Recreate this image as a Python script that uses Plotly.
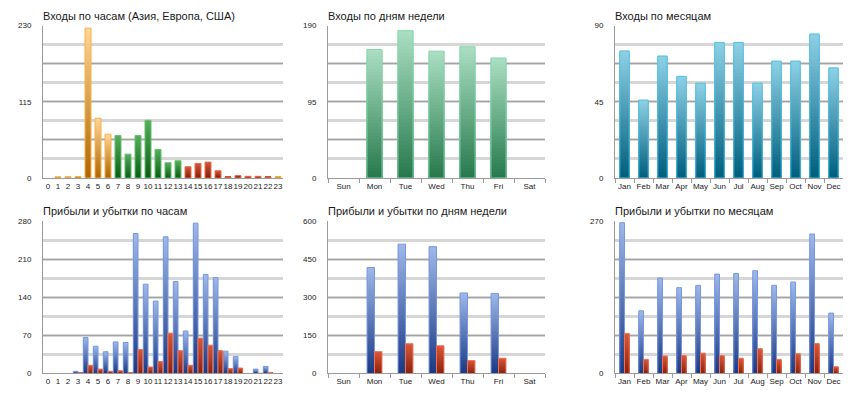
import plotly.graph_objects as go

# ---------------- data ----------------
HOURS = [str(h) for h in range(24)]
DAYS = ["Sun", "Mon", "Tue", "Wed", "Thu", "Fri", "Sat"]
MONTHS = ["Jan", "Feb", "Mar", "Apr", "May", "Jun", "Jul", "Aug", "Sep", "Oct", "Nov", "Dec"]

# entries by hour, with the session (region) of each hour
entries_hour = [0, 1, 1, 2, 226, 90, 66, 64, 36, 64, 87, 43, 23, 26,
                17, 22, 24, 11, 1.5, 3.5, 2.5, 2.5, 1.5, 1.5]
session_hour = ["asia"] * 7 + ["europe"] * 7 + ["usa"] * 9 + ["asia"]

entries_day = [0, 160, 183.5, 158, 163.5, 149.5, 0]
entries_month = [75, 46, 72, 60, 56, 80, 80, 56, 69, 69, 85, 65]

profit_hour = [0, 0, 0, 4, 66, 50, 40, 58, 57, 257, 164, 133, 251, 169,
               78, 276, 182, 176, 41, 31, 0, 8, 13, 0]
loss_hour = [0, 0, 0, 1, 15, 8, 4, 5, 1, 44, 12, 22, 74, 42,
             15, 65, 52, 42, 9, 10, 0, 0.5, 2, 0]

profit_day = [0, 417, 509, 499, 317, 315, 0]
loss_day = [0, 86, 117, 109, 51, 60, 0]

profit_month = [267, 111, 169, 152, 156, 176, 177, 182, 156, 162, 247, 107]
loss_month = [71, 25, 31, 32, 36, 32, 27, 44, 25, 35, 53, 12]

TITLES = ["Входы по часам (Азия, Европа, США)", "Входы по дням недели", "Входы по месяцам",
          "Прибыли и убытки по часам", "Прибыли и убытки по дням недели", "Прибыли и убытки по месяцам"]

Y_MAX = [230, 190, 90, 280, 600, 270]
Y_LABELS = [[0, 115, 230], [0, 95, 190], [0, 45, 90],
            [0, 70, 140, 210, 280], [0, 150, 300, 450, 600], [0, 270]]

# ---------------- styles ----------------
W, H = 860, 400
STYLE = {
    "asia":   ("#ffd592", "#b06600", "#f8b04c"),
    "europe": ("#56ad5c", "#0b5e14", "#62c06c"),
    "usa":    ("#d2573a", "#86200a", "#ea6c4c"),
    "green":  ("#a9dec2", "#287a4e", "#80d6a6"),
    "teal":   ("#8dd0e4", "#005f7e", "#4cbfe6"),
    "blue":   ("#9db7e8", "#1b3a86", "#7797e2"),
    "red":    ("#d8583a", "#8a2210", "#f07050"),
}
N_LAYERS = 40  # vertical gradient steps inside each bar

COLS = [(43, 283), (328, 545), (615, 843)]
ROWS = [(22, 178), (222, 378)]
FONT = "Liberation Sans, Arial, sans-serif"


def hx(c):
    c = c.lstrip("#")
    return tuple(int(c[i:i + 2], 16) for i in (0, 2, 4))


def mix(a, b, t):
    a, b = hx(a), hx(b)
    return "rgb(%d,%d,%d)" % tuple(round(a[k] + (b[k] - a[k]) * t) for k in range(3))


fig = go.Figure()


def add_series(i, cats, values, styles, offset, width):
    xa, ya = "x%d" % i, "y%d" % i
    for L in range(N_LAYERS):
        frac = (N_LAYERS - L) / N_LAYERS
        t = L / (N_LAYERS - 1)
        colors = [mix(STYLE[s][0], STYLE[s][1], t) for s in styles]
        fig.add_trace(go.Bar(
            x=cats, y=[v * frac if v else None for v in values],
            xaxis=xa, yaxis=ya, offset=offset, width=width,
            marker=dict(color=colors, line=dict(width=0)),
            showlegend=False, hoverinfo="skip"))
    fig.add_trace(go.Bar(
        x=cats, y=[v if v else None for v in values], xaxis=xa, yaxis=ya,
        offset=offset, width=width,
        marker=dict(color="rgba(0,0,0,0)", line=dict(width=1, color=[STYLE[s][2] for s in styles])),
        showlegend=False, hovertemplate="%{x}: %{y}<extra></extra>"))


add_series(1, HOURS, entries_hour, session_hour, -0.3, 0.6)
add_series(2, DAYS, entries_day, ["green"] * 7, -0.245, 0.49)
add_series(3, MONTHS, entries_month, ["teal"] * 12, -0.25, 0.5)
add_series(4, HOURS, profit_hour, ["blue"] * 24, -0.47, 0.47)
add_series(4, HOURS, loss_hour, ["red"] * 24, 0.0, 0.47)
add_series(5, DAYS, profit_day, ["blue"] * 7, -0.24, 0.24)
add_series(5, DAYS, loss_day, ["red"] * 7, 0.0, 0.24)
add_series(6, MONTHS, profit_month, ["blue"] * 12, -0.25, 0.25)
add_series(6, MONTHS, loss_month, ["red"] * 12, 0.0, 0.25)

CATS = [HOURS, DAYS, MONTHS, HOURS, DAYS, MONTHS]
layout = dict(
    width=W, height=H, margin=dict(l=0, r=0, t=0, b=0),
    paper_bgcolor="white", plot_bgcolor="white", barmode="overlay",
    font=dict(family=FONT, size=8, color="#222"),
    annotations=[],
)
for i in range(1, 7):
    r, c = (i - 1) // 3, (i - 1) % 3
    x0, x1 = COLS[c]
    y0, y1 = ROWS[r]
    cats = CATS[i - 1]
    ymax = Y_MAX[i - 1]
    quarters = [ymax * k / 4 for k in range(5)]
    labels = Y_LABELS[i - 1]
    ticktext = [("%g" % q) if any(abs(q - l) < 1e-9 for l in labels) else "" for q in quarters]
    boundary = c != 0
    layout["xaxis%d" % i] = dict(
        domain=[x0 / W, x1 / W], anchor="y%d" % i, type="category",
        categoryorder="array", categoryarray=cats, range=[-0.5, len(cats) - 0.5],
        showline=True, linecolor="#9a9a9a", linewidth=1, showgrid=False, zeroline=False,
        ticks="outside" if boundary else "", tickson="boundaries", ticklen=4, tickcolor="#9a9a9a",
        tickfont=dict(family=FONT, size=8, color="#222"), tickangle=0, fixedrange=True,
    )
    layout["yaxis%d" % i] = dict(
        domain=[1 - y1 / H, 1 - y0 / H], anchor="x%d" % i, range=[0, ymax],
        tickmode="array", tickvals=quarters, ticktext=ticktext,
        showline=True, linecolor="#9a9a9a", linewidth=1,
        showgrid=True, gridcolor="#a4a4a4", gridwidth=1, zeroline=False,
        minor=dict(tickmode="linear", tick0=0, dtick=ymax / 8, showgrid=True,
                   gridcolor="#d6d6d6", gridwidth=3, ticks=""),
        ticks="", ticklabelstandoff=9,
        tickfont=dict(family=FONT, size=8, color="#222"), fixedrange=True,
    )
    layout["annotations"].append(dict(
        text=TITLES[i - 1], xref="paper", yref="paper", x=(x0 - 2) / W, y=1 - (y0 - 10) / H,
        xanchor="left", yanchor="middle", showarrow=False,
        font=dict(family=FONT, size=11, color="#1a1a1a")))

fig.update_layout(**layout)
fig.write_html("out.html")
